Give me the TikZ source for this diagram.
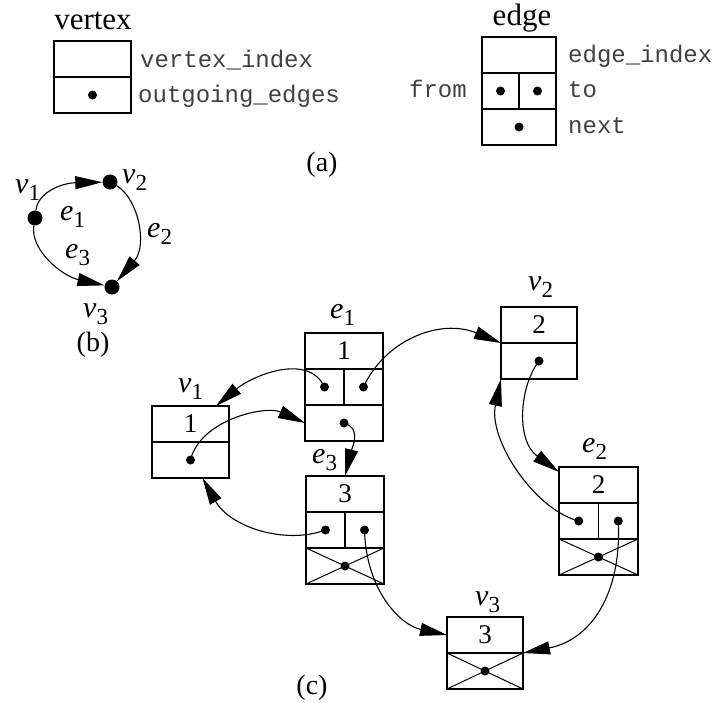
\documentclass[tikz,border=0pt]{standalone}
\usepackage{fontspec}
\setmainfont{Liberation Serif}
\setmonofont{Liberation Mono}
\usetikzlibrary{arrows.meta,calc}
\newcommand{\lab}[2]{\textit{#1}\raisebox{-7pt}{\fontsize{23}{23}\selectfont #2}}
\newcommand{\vertexrec}[5]{%
  \node[cell, minimum width=#4] (#1t) at (#2,#3) {#5};
  \node[cell, minimum width=#4] (#1b) at (#1t.south west) {};
  \node[dot] (#1o) at (#1b.center) {};}
\newcommand{\edgerec}[5]{%
  \node[cell, minimum width=#4] (#1t) at (#2,#3) {#5};
  \node[cell, minimum width=#4/2] (#1f) at (#1t.south west) {};
  \node[cell, minimum width=#4/2] (#1s) at (#1f.north east) {};
  \node[cell, minimum width=#4] (#1n) at (#1f.south west) {};
  \node[dot] (#1fd) at (#1f.center) {};
  \node[dot] (#1sd) at (#1s.center) {};
  \node[dot] (#1nd) at (#1n.center) {};}
\newcommand{\crosscell}[1]{\draw[crossline] (#1.north west) -- (#1.south east) (#1.south west) -- (#1.north east);}
\begin{document}
\begin{tikzpicture}[x=1pt,y=-1pt,
  cell/.style={draw, line width=1.6pt, inner sep=0pt, outer sep=0pt, anchor=north west,
    minimum height=36pt, font=\fontsize{27}{27}\selectfont},
  dot/.style={circle, fill, inner sep=0pt, minimum size=9pt},
  gdot/.style={circle, fill, inner sep=0pt, minimum size=15pt},
  crossline/.style={line width=1pt},
  link/.style={line width=1.1pt, -{Triangle[length=27pt,width=13pt]}},
  mono/.style={font=\ttfamily\fontsize{24}{24}\selectfont, text=black!75, inner sep=0pt},
  lbl/.style={font=\fontsize{30}{30}\selectfont, inner sep=0pt, anchor=base west},
  head/.style={font=\fontsize{31}{31}\selectfont, inner sep=0pt, anchor=base},
  captext/.style={font=\fontsize{28}{28}\selectfont, inner sep=0pt, anchor=base}]
\useasboundingbox (0,0) rectangle (720,702);
\fill[white] (0,0) rectangle (720,702);

% ---------- (a) ----------
\node[head] (hv) at (93,29) {vertex};
\vertexrec{av}{54}{41}{77}{}
\node[mono, anchor=base west] (tvi) at (140,67) {vertex\_index};
\node[mono, anchor=base west] (toe) at (138,102) {outgoing\_edges};

\node[head] (he) at (522,25) {edge};
\edgerec{ae}{482}{37}{74}{}
\node[mono, anchor=base west] (tei) at (568,62) {edge\_index};
\node[mono, anchor=base east] (tfr) at (467,97) {from};
\node[mono, anchor=base west] (tto) at (568,97) {to};
\node[mono, anchor=base west] (tnx) at (568,133) {next};
\node[captext] (capa) at (322,171) {(a)};

% ---------- (b) ----------
\node[gdot] (bv1) at (35,218) {};
\node[gdot] (bv2) at (110,182) {};
\node[gdot] (bv3) at (112,287) {};
\draw[link] (bv1) .. controls (38,192) and (62,183) .. (bv2);
\draw[link] (bv2) .. controls (138,198) and (148,245) .. (bv3);
\draw[link] (bv1) .. controls (30,250) and (62,276) .. (bv3);
\node[lbl] (lbv1) at (15,193) {\lab{v}{1}};
\node[lbl] (lbv2) at (122,183) {\lab{v}{2}};
\node[lbl] (lbv3) at (83,317) {\lab{v}{3}};
\node[lbl] (lbe1) at (60,220) {\lab{e}{1}};
\node[lbl] (lbe2) at (147,237) {\lab{e}{2}};
\node[lbl] (lbe3) at (65,258) {\lab{e}{3}};
\node[captext] (capb) at (93,351) {(b)};

% ---------- (c) ----------
\vertexrec{v1}{152}{406}{77}{1}
\vertexrec{v2}{501}{307}{76}{2}
\vertexrec{v3}{447}{617}{76}{3}
\crosscell{v3b}
\edgerec{e1}{305}{333}{78}{1}
\edgerec{e3}{306}{476}{78}{3}
\crosscell{e3n}
\edgerec{e2}{559}{467}{79}{2}
\crosscell{e2n}

\node[lbl] (lv1) at (178,392) {\lab{v}{1}};
\node[lbl] (lv2) at (528,290) {\lab{v}{2}};
\node[lbl] (lv3) at (475,605) {\lab{v}{3}};
\node[lbl] (le1) at (330,318) {\lab{e}{1}};
\node[lbl] (le2) at (582,452) {\lab{e}{2}};
\node[lbl] (le3) at (312,463) {\lab{e}{3}};

\coordinate (c1) at ($(v1t.north east)+(-13,0)$);
\coordinate (c5) at ($(v1b.south)+(12,0)$);
\coordinate (c7) at ($(e2t.north west)+(0,5)$);

\draw[link] (e1fd.center) .. controls (308,352) and (252,376) .. (c1);
\draw[link] (v1o.center) .. controls (200,420) and (265,405) .. (e1n.west);
\draw[link] (e1sd.center) .. controls (385,340) and (440,318) .. (v2t.south west);
\draw[link] (e1nd.center) .. controls (362,428) and (352,448) .. (e3t.north);
\draw[link] (e3fd.center) .. controls (285,545) and (230,527) .. (c5);
\draw[link] (e3sd.center) .. controls (366,590) and (400,625) .. (v3t.west);
\draw[link] (v2o.center) .. controls (520,385) and (515,440) .. (c7);
\draw[link] (e2fd.center) .. controls (535,510) and (488,440) .. (v2b.south west);
\draw[link] (e2sd.center) .. controls (622,595) and (590,640) .. (v3t.south east);

\node[captext] (capc) at (312,694) {(c)};
\end{tikzpicture}
\end{document}
